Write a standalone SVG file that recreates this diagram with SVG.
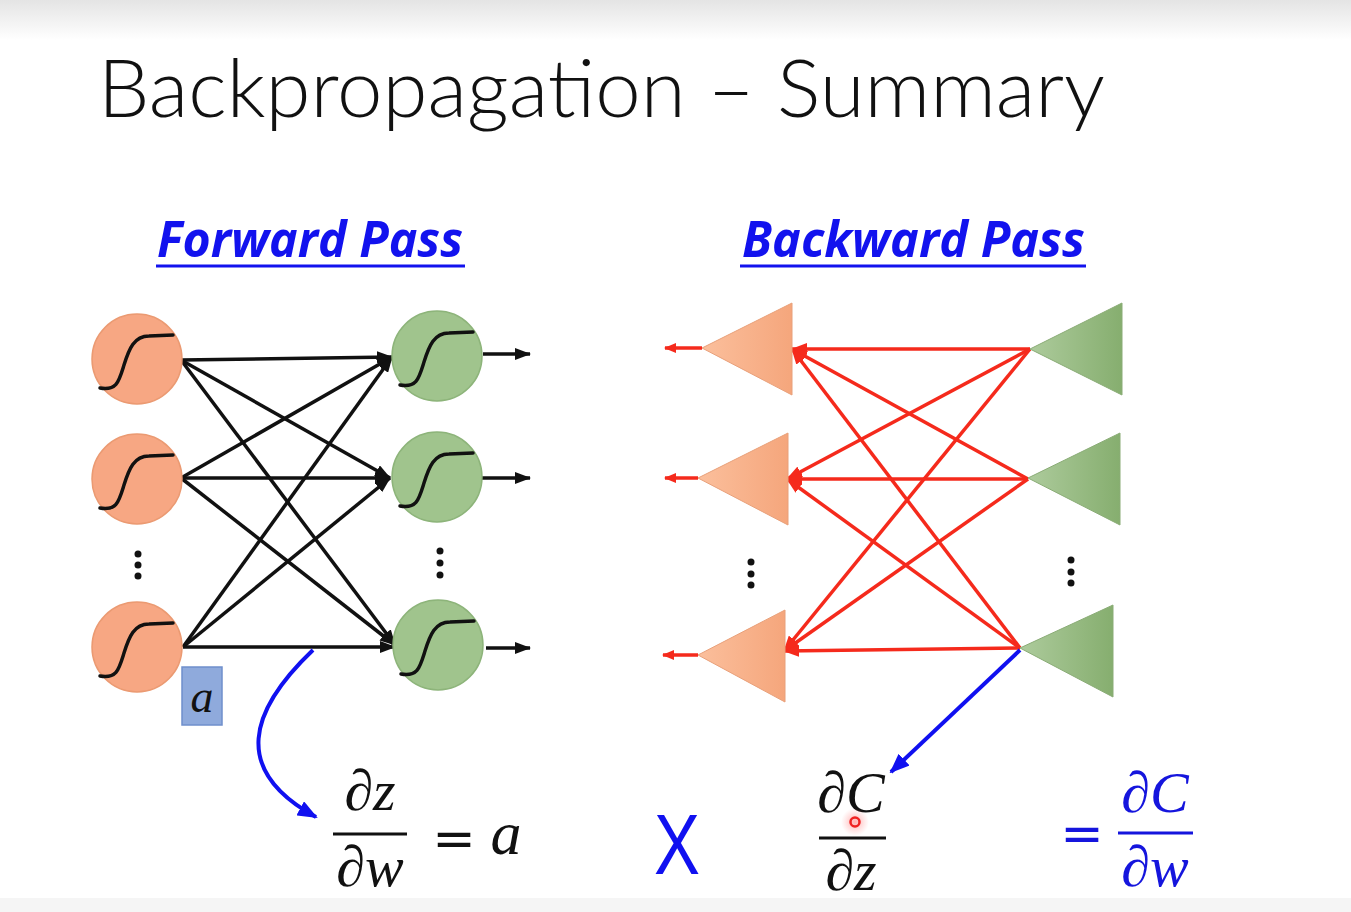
<svg xmlns="http://www.w3.org/2000/svg" xmlns:xlink="http://www.w3.org/1999/xlink" width="1351" height="912" viewBox="0 0 1351 912">
<style>
.title{font-family:Lato,"Open Sans","Liberation Sans",sans-serif;font-weight:300;font-size:80px;fill:#111}
.head{font-family:"Open Sans","Liberation Sans",sans-serif;font-weight:700;font-style:italic;font-size:50px;fill:#1212ee}
.ul{stroke:#1212ee;stroke-width:3}
.math{font-family:"Liberation Serif","DejaVu Serif",serif;font-style:italic;font-size:58px;fill:#111}
.mathb{font-family:"Liberation Serif","DejaVu Serif",serif;font-style:italic;font-size:58px;fill:#1515dd}
.eq{font-family:"DejaVu Sans","Liberation Sans",sans-serif;font-size:52px;fill:#111}
.frac{stroke:#111;stroke-width:3}
.ocirc{fill:#f7a783;stroke:#eb9a72;stroke-width:1.5}
.gcirc{fill:#a0c48d;stroke:#8db47a;stroke-width:1.5}
.sig{fill:none;stroke:#111;stroke-width:3.5;stroke-linecap:round}
.fw{stroke:#111;stroke-width:3.5;fill:none}
.bw{stroke:#f52a1c;stroke-width:3.5;fill:none}
.blue{stroke:#1010f0;stroke-width:4;fill:none}
.otri{fill:url(#og);stroke:#e8a07a;stroke-width:1}
.gtri{fill:url(#gg);stroke:#8aac76;stroke-width:1}
.dot{fill:#111}
</style>
<defs>
<linearGradient id="top" x1="0" y1="0" x2="0" y2="1">
<stop offset="0" stop-color="#e4e4e4"/><stop offset="1" stop-color="#ffffff"/>
</linearGradient>
<linearGradient id="og" x1="0" y1="0" x2="1" y2="0">
<stop offset="0" stop-color="#fbbf9c"/><stop offset="1" stop-color="#f5a67c"/>
</linearGradient>
<linearGradient id="gg" x1="0" y1="0" x2="1" y2="0">
<stop offset="0" stop-color="#adcb9c"/><stop offset="1" stop-color="#86ae6f"/>
</linearGradient>
<radialGradient id="halo">
<stop offset="0" stop-color="#ff6060" stop-opacity="0.5"/><stop offset="1" stop-color="#ff8080" stop-opacity="0"/>
</radialGradient>
<marker id="ak" markerUnits="userSpaceOnUse" markerWidth="16" markerHeight="12" refX="15" refY="6" orient="auto">
<path d="M0,0 L16,6 L0,12 z" fill="#111"/>
</marker>
<marker id="ar" markerUnits="userSpaceOnUse" markerWidth="16" markerHeight="12" refX="15" refY="6" orient="auto">
<path d="M0,0 L16,6 L0,12 z" fill="#f52a1c"/>
</marker>
<marker id="ars" markerUnits="userSpaceOnUse" markerWidth="12" markerHeight="10" refX="11" refY="5" orient="auto">
<path d="M0,0 L12,5 L0,10 z" fill="#f52a1c"/>
</marker>
<marker id="ab" markerUnits="userSpaceOnUse" markerWidth="20" markerHeight="16" refX="18" refY="8" orient="auto">
<path d="M0,0 L20,8 L0,16 z" fill="#1010f0"/>
</marker>
<path id="sg" class="sig" d="M-37,29 C-20,32 -18,22 -13,6 C-8,-10 -3,-23 12,-23 L36,-24"/>
</defs>

<rect x="0" y="0" width="1351" height="912" fill="#ffffff"/>
<rect x="0" y="0" width="1351" height="40" fill="url(#top)"/>
<rect x="0" y="898" width="1351" height="14" fill="#f5f5f5"/>

<g id="title">
<text class="title" x="98" y="117" textLength="1007" lengthAdjust="spacingAndGlyphs">Backpropagation – Summary</text>
</g>

<g id="forward-heading">
<text class="head" x="157" y="257" textLength="306" lengthAdjust="spacingAndGlyphs">Forward Pass</text>
<line class="ul" x1="156" y1="266" x2="465" y2="266"/>
</g>
<g id="backward-heading">
<text class="head" x="742" y="257" textLength="343" lengthAdjust="spacingAndGlyphs">Backward Pass</text>
<line class="ul" x1="740" y1="266" x2="1086" y2="266"/>
</g>

<g id="connectors">
<g id="forward-edges">
<line class="fw" marker-end="url(#ak)" x1="181" y1="360" x2="392" y2="357"/>
<line class="fw" marker-end="url(#ak)" x1="181" y1="360" x2="390" y2="478"/>
<line class="fw" marker-end="url(#ak)" x1="181" y1="360" x2="395" y2="645"/>
<line class="fw" marker-end="url(#ak)" x1="181" y1="478" x2="392" y2="357"/>
<line class="fw" marker-end="url(#ak)" x1="181" y1="478" x2="390" y2="478"/>
<line class="fw" marker-end="url(#ak)" x1="181" y1="478" x2="395" y2="645"/>
<line class="fw" marker-end="url(#ak)" x1="183" y1="647" x2="392" y2="357"/>
<line class="fw" marker-end="url(#ak)" x1="183" y1="647" x2="390" y2="478"/>
<line class="fw" marker-end="url(#ak)" x1="183" y1="647" x2="395" y2="647"/>
<line class="fw" marker-end="url(#ak)" x1="483" y1="354" x2="530" y2="354"/>
<line class="fw" marker-end="url(#ak)" x1="482" y1="478" x2="530" y2="478"/>
<line class="fw" marker-end="url(#ak)" x1="486" y1="648" x2="530" y2="648"/>
</g>
<g id="backward-edges">
<line class="bw" marker-end="url(#ar)" x1="1030" y1="349" x2="792" y2="349"/>
<line class="bw" marker-end="url(#ar)" x1="1030" y1="349" x2="787" y2="479"/>
<line class="bw" marker-end="url(#ar)" x1="1030" y1="349" x2="784" y2="651"/>
<line class="bw" marker-end="url(#ar)" x1="1028" y1="479" x2="792" y2="349"/>
<line class="bw" marker-end="url(#ar)" x1="1028" y1="479" x2="787" y2="479"/>
<line class="bw" marker-end="url(#ar)" x1="1028" y1="479" x2="784" y2="651"/>
<line class="bw" marker-end="url(#ar)" x1="1020" y1="648" x2="792" y2="349"/>
<line class="bw" marker-end="url(#ar)" x1="1020" y1="648" x2="787" y2="479"/>
<line class="bw" marker-end="url(#ar)" x1="1020" y1="648" x2="784" y2="651"/>
<line class="bw" marker-end="url(#ars)" x1="702" y1="348" x2="665" y2="348"/>
<line class="bw" marker-end="url(#ars)" x1="698" y1="478" x2="665" y2="478"/>
<line class="bw" marker-end="url(#ars)" x1="698" y1="655" x2="663" y2="655"/>
</g>
<path class="blue" marker-end="url(#ab)" d="M313,650 C250,710 230,770 316,817"/>
<line class="blue" marker-end="url(#ab)" x1="1020" y1="650" x2="891" y2="772"/>
</g>

<g id="in1"><circle class="ocirc" cx="137" cy="359" r="45"/><use xlink:href="#sg" x="137" y="359"/></g>
<g id="in2"><circle class="ocirc" cx="137" cy="479" r="45"/><use xlink:href="#sg" x="137" y="479"/></g>
<g id="in3"><circle class="ocirc" cx="137" cy="647" r="45"/><use xlink:href="#sg" x="137" y="647"/></g>
<g id="in-dots"><circle class="dot" cx="138" cy="554" r="3.5"/><circle class="dot" cx="138" cy="565" r="3.5"/><circle class="dot" cx="138" cy="576" r="3.5"/></g>

<g id="out1"><circle class="gcirc" cx="437" cy="356" r="45"/><use xlink:href="#sg" x="437" y="356"/></g>
<g id="out2"><circle class="gcirc" cx="437" cy="477" r="45"/><use xlink:href="#sg" x="437" y="477"/></g>
<g id="out3"><circle class="gcirc" cx="438" cy="645" r="45"/><use xlink:href="#sg" x="438" y="645"/></g>
<g id="out-dots"><circle class="dot" cx="440" cy="551" r="3.5"/><circle class="dot" cx="440" cy="563" r="3.5"/><circle class="dot" cx="440" cy="575" r="3.5"/></g>

<g id="a-box">
<rect x="182" y="667" width="40" height="58" fill="#8faadc" stroke="#6f8fcc" stroke-width="1.5"/>
<text class="math" x="202" y="712" text-anchor="middle" font-size="46" style="font-size:46px">a</text>
</g>

<g id="btri-left1"><polygon class="otri" points="702,348 792,303 792,395"/></g>
<g id="btri-left2"><polygon class="otri" points="698,478 788,433 788,525"/></g>
<g id="btri-left3"><polygon class="otri" points="698,655 785,610 785,702"/></g>
<g id="bleft-dots"><circle class="dot" cx="751" cy="562" r="3.5"/><circle class="dot" cx="751" cy="574" r="3.5"/><circle class="dot" cx="751" cy="585" r="3.5"/></g>

<g id="btri-right1"><polygon class="gtri" points="1030,349 1122,303 1122,395"/></g>
<g id="btri-right2"><polygon class="gtri" points="1028,478 1120,433 1120,525"/></g>
<g id="btri-right3"><polygon class="gtri" points="1020,648 1113,605 1113,697"/></g>
<g id="bright-dots"><circle class="dot" cx="1071" cy="560" r="3.5"/><circle class="dot" cx="1071" cy="572" r="3.5"/><circle class="dot" cx="1071" cy="583" r="3.5"/></g>

<g id="eq1">
<text class="math" x="370" y="810" text-anchor="middle">∂z</text>
<line class="frac" x1="333" y1="834" x2="407" y2="834"/>
<text class="math" x="370" y="886" text-anchor="middle">∂w</text>
<text class="eq" x="454" y="856" text-anchor="middle">=</text>
<text class="math" x="506" y="854" text-anchor="middle" style="font-size:62px">a</text>
</g>

<g id="times">
<text x="677" y="874" text-anchor="middle" font-family="Liberation Sans,Arial,sans-serif" font-size="86" fill="#1010f0" textLength="46" lengthAdjust="spacingAndGlyphs">X</text>
</g>

<g id="eq2">
<text class="math" x="851" y="812" text-anchor="middle">∂C</text>
<line class="frac" x1="819" y1="838" x2="886" y2="838"/>
<text class="math" x="851" y="890" text-anchor="middle">∂z</text>
</g>

<g id="cursor">
<circle cx="855" cy="822" r="14" fill="url(#halo)"/>
<circle cx="855" cy="822" r="4.5" fill="none" stroke="#f02020" stroke-width="2.5"/>
</g>

<g id="eq3">
<text class="eq" x="1082" y="851" text-anchor="middle" style="fill:#1515dd">=</text>
<text class="mathb" x="1155" y="812" text-anchor="middle">∂C</text>
<line x1="1118" y1="833" x2="1193" y2="833" stroke="#1515dd" stroke-width="3"/>
<text class="mathb" x="1155" y="886" text-anchor="middle">∂w</text>
</g>
</svg>
